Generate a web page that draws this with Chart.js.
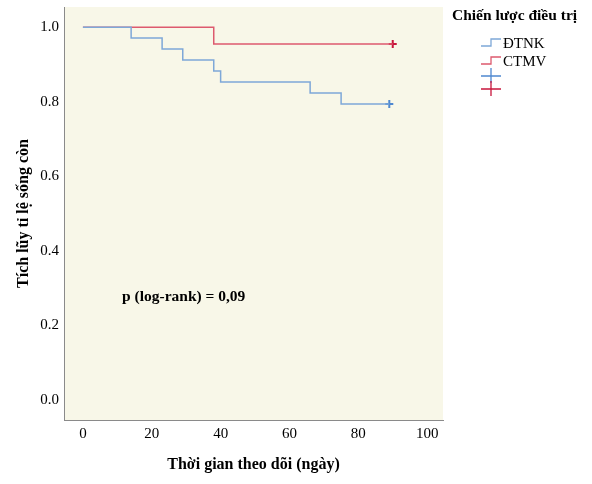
<!DOCTYPE html>
<html>
<head>
<meta charset="utf-8">
<script src="https://cdn.jsdelivr.net/npm/chart.js@4"></script>
<style>
html,body{margin:0;padding:0;background:#ffffff;}
#wrap{width:592px;height:484px;}
</style>
</head>
<body>
<div id="wrap"><canvas id="c" width="592" height="484"></canvas></div>
<script>
// ---- data ----
const groupNames = ["ĐTNK", "CTMV"];
const dtnkTimes = [0, 14, 23, 29, 38, 40, 66, 75, 89];
const dtnkSurv  = [1.0, 0.971, 0.941, 0.912, 0.882, 0.853, 0.823, 0.794, 0.794];
const ctmvTimes = [0, 38, 90];
const ctmvSurv  = [1.0, 0.955, 0.955];
const dtnkCensorTimes = [89];
const dtnkCensorSurv  = [0.794];
const ctmvCensorTimes = [90];
const ctmvCensorSurv  = [0.955];
const xTicks = [0, 20, 40, 60, 80, 100];
const yTicks = [0.0, 0.2, 0.4, 0.6, 0.8, 1.0];
const legendTitle = "Chiến lược điều trị";
const xTitle = "Thời gian theo dõi (ngày)";
const yTitle = "Tích lũy tỉ lệ sống còn";
const pText = "p (log-rank) = 0,09";

const blueLine = "#7ea8d8";
const redLine = "#dd5a6e";
const blueMark = "#4f88d0";
const redMark = "#c8163c";
const serif = "'Liberation Serif', 'DejaVu Serif', serif";

const pts = (xs, ys) => xs.map((x, i) => ({x: x, y: ys[i]}));

const bgPlugin = {
  id: 'bg',
  beforeDraw(chart) {
    const {ctx, chartArea: a} = chart;
    ctx.save();
    ctx.fillStyle = "#f8f7e8";
    ctx.fillRect(a.left, a.top, a.right - a.left, a.bottom - a.top);
    ctx.restore();
  }
};

const annoPlugin = {
  id: 'anno',
  afterDraw(chart) {
    const ctx = chart.ctx;
    ctx.save();
    // p value
    ctx.font = "bold 15.5px " + serif;
    ctx.fillStyle = "#000";
    ctx.textBaseline = "middle";
    ctx.textAlign = "left";
    ctx.fillText(pText, 122, 297);
    // legend
    ctx.font = "bold 15.5px " + serif;
    ctx.fillText(legendTitle, 452, 16);
    ctx.font = "15px " + serif;
    const items = [
      {type: 'step', color: blueLine, label: groupNames[0], y: 43},
      {type: 'step', color: redLine, label: groupNames[1], y: 61},
      {type: 'cross', color: blueMark, label: "", y: 76},
      {type: 'cross', color: redMark, label: "", y: 89}
    ];
    items.forEach(it => {
      ctx.strokeStyle = it.color;
      ctx.lineWidth = 1.3;
      ctx.beginPath();
      if (it.type === 'step') {
        ctx.moveTo(481, it.y + 3);
        ctx.lineTo(491, it.y + 3);
        ctx.lineTo(491, it.y - 4);
        ctx.lineTo(501, it.y - 4);
      } else {
        ctx.moveTo(481, it.y);
        ctx.lineTo(501, it.y);
        ctx.moveTo(491, it.y - 8);
        ctx.lineTo(491, it.y + 7);
      }
      ctx.stroke();
      if (it.label) {
        ctx.fillStyle = "#000";
        ctx.fillText(it.label, 503, it.y + 1);
      }
    });
    ctx.restore();
  }
};

new Chart(document.getElementById('c'), {
  type: 'line',
  data: {
    datasets: [
      {label: groupNames[0], data: pts(dtnkTimes, dtnkSurv), stepped: 'before', borderColor: blueLine, borderWidth: 1.5, pointRadius: 0, fill: false},
      {label: groupNames[1], data: pts(ctmvTimes, ctmvSurv), stepped: 'before', borderColor: redLine, borderWidth: 1.5, pointRadius: 0, fill: false},
      {label: groupNames[0] + " censored", type: 'scatter', data: pts(dtnkCensorTimes, dtnkCensorSurv), pointStyle: 'cross', radius: 4, borderColor: blueMark, borderWidth: 2},
      {label: groupNames[1] + " censored", type: 'scatter', data: pts(ctmvCensorTimes, ctmvCensorSurv), pointStyle: 'cross', radius: 4, borderColor: redMark, borderWidth: 2}
    ]
  },
  options: {
    responsive: false,
    animation: false,
    layout: {padding: {top: 7, right: 149, left: 0, bottom: 0}},
    plugins: {legend: {display: false}, tooltip: {enabled: false}},
    scales: {
      x: {
        type: 'linear',
        min: -5.5, max: 104.6,
        afterBuildTicks(s) { s.ticks = xTicks.map(v => ({value: v})); },
        afterFit(s) { s.height = 64; s.paddingLeft = 0; s.paddingRight = 0; },
        grid: {display: false, drawTicks: false},
        border: {display: true, color: '#8a8a8a', width: 1},
        ticks: {padding: 5, color: '#000', font: {family: serif, size: 15}},
        title: {display: true, text: xTitle, color: '#000', font: {family: serif, size: 16, weight: 'bold'}, padding: {top: 0, bottom: 10}}
      },
      y: {
        type: 'linear',
        min: -0.054, max: 1.054,
        afterBuildTicks(s) { s.ticks = yTicks.map(v => ({value: v})); },
        afterFit(s) { s.width = 64; s.paddingTop = 0; s.paddingBottom = 0; },
        grid: {display: false, drawTicks: false},
        border: {display: true, color: '#8a8a8a', width: 1},
        ticks: {padding: 5, color: '#000', font: {family: serif, size: 15}, callback: v => v.toFixed(1)},
        title: {display: true, text: yTitle, color: '#000', font: {family: serif, size: 16, weight: 'bold'}, padding: {top: 14, bottom: 0}}
      }
    }
  },
  plugins: [bgPlugin, annoPlugin]
});
</script>
</body>
</html>
